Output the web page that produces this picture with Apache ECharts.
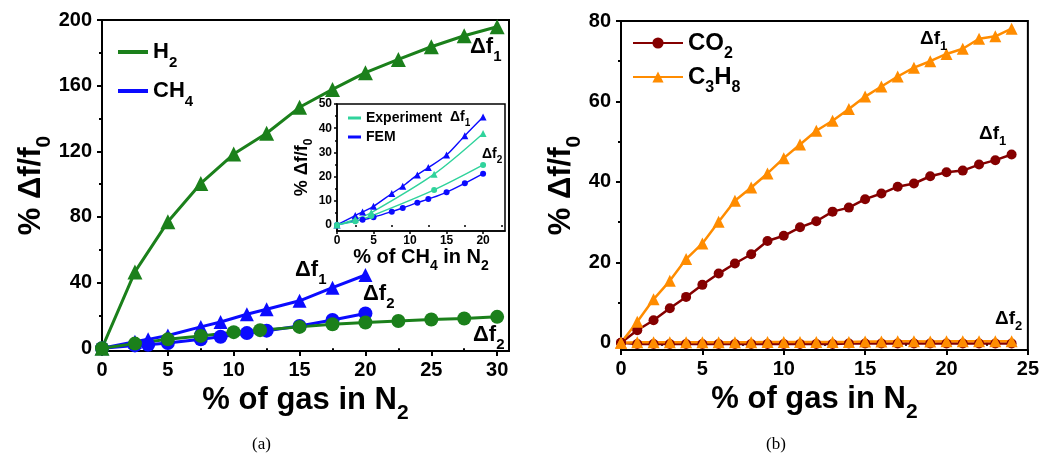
<!DOCTYPE html>
<html>
<head>
<meta charset="utf-8">
<script src="https://cdn.jsdelivr.net/npm/echarts@6/dist/echarts.min.js"></script>
<style>
  html, body { margin: 0; padding: 0; background: #fff; }
  #chart { width: 1042px; height: 455px; }
</style>
</head>
<body>
<div id="chart"></div>
<script>
// (a) H2 and CH4, % of gas in N2
const h2X = [0, 2.5, 5, 7.5, 10, 12.5, 15, 17.5, 20, 22.5, 25, 27.5, 30];
const h2F1 = [0, 46.5, 77, 100.4, 118.3, 131, 146.8, 157.7, 167.9, 176, 183.7, 190.4, 195.9];
const h2F2X = [0, 2.5, 5, 7.5, 10, 12, 15, 17.5, 20, 22.5, 25, 27.5, 30];
const h2F2 = [0, 2.8, 5.4, 7.5, 9.8, 11, 13, 14.6, 15.7, 16.6, 17.5, 18.1, 19.1];
const ch4X = [0, 2.5, 3.5, 5, 7.5, 9, 11, 12.5, 15, 17.5, 20];
const ch4F1 = [0, 3.9, 5.4, 7.7, 13.0, 16.0, 20.7, 23.7, 28.9, 36.9, 44.6];
const ch4F2 = [0, 1.7, 2.1, 3.2, 5.5, 7.0, 9.2, 10.7, 13.5, 17.2, 21.2];

// inset: experiment vs FEM for CH4
const expX = [0, 2.5, 4.7, 13.3, 20];
const expF1 = [0, 2.3, 5.1, 21, 37.8];
const expF2 = [0, 1.5, 3.7, 14.5, 24.8];

// (b) CO2 and C3H8
const bX = [0, 1, 2, 3, 4, 5, 6, 7, 8, 9, 10, 11, 12, 13, 14, 15, 16, 17, 18, 19, 20, 21, 22, 23, 24];
const co2F1 = [0, 3.1, 5.6, 8.6, 11.4, 14.4, 17.2, 19.7, 22.0, 25.3, 26.6, 28.7, 30.2, 32.6, 33.6, 35.7, 37.1, 38.8, 39.6, 41.4, 42.4, 42.8, 44.3, 45.4, 46.8];
const c3h8F1 = [0, 5.2, 10.8, 15.4, 20.8, 24.7, 30.1, 35.3, 38.6, 42.1, 45.9, 49.3, 52.7, 55.2, 58.1, 61.2, 63.7, 66.2, 68.4, 70.0, 71.8, 73.1, 75.6, 76.2, 78.1];
const co2F2 = [0, -0.3, -0.3, -0.3, -0.3, -0.3, -0.3, -0.3, -0.3, -0.3, -0.3, -0.3, -0.3, -0.3, -0.2, -0.2, -0.2, -0.2, -0.2, -0.2, -0.2, -0.2, -0.2, -0.2, -0.2];
const c3h8F2 = [0, 0.1, 0.1, 0.1, 0.1, 0.1, 0.1, 0.1, 0.1, 0.2, 0.2, 0.2, 0.2, 0.2, 0.2, 0.3, 0.3, 0.4, 0.4, 0.3, 0.4, 0.4, 0.4, 0.4, 0.4];

// tick labels
const aXTicks = [0, 5, 10, 15, 20, 25, 30];
const aXMinor = [2.5, 7.5, 12.5, 17.5, 22.5, 27.5];
const aYTicks = [0, 40, 80, 120, 160, 200];
const aYMinor = [20, 60, 100, 140, 180];
const inXTicks = [0, 5, 10, 15, 20];
const inXMinor = [2.5, 7.5, 12.5, 17.5, 22.5];
const inYTicks = [0, 10, 20, 30, 40, 50];
const inYMinor = [5, 15, 25, 35, 45];
const bXTicks = [0, 5, 10, 15, 20, 25];
const bXMinor = [2.5, 7.5, 12.5, 17.5, 22.5];
const bYTicks = [0, 20, 40, 60, 80];
const bYMinor = [10, 30, 50, 70];

const FONT = 'Liberation Sans';
const GREEN = '#1b801b';
const BLUE = '#0b0bff';
const TEAL = '#30d39c';
const DARKRED = '#850000';
const ORANGE = '#ff8c00';

const pairs = (xs, ys) => xs.map((x, i) => [x, ys[i]]);

// subscript style for rich text
const sub = (size, drop) => ({
  fontSize: size, fontWeight: 'bold', fontFamily: FONT, color: '#000',
  verticalAlign: 'bottom', padding: [0, 0, -drop, 0]
});

const legendNames = {
  H2: 'H{s|2}', CH4: 'CH{s|4}', CO2: 'CO{s|2}', C3H8: 'C{s|3}H{s|8}',
  Experiment: 'Experiment', FEM: 'FEM'
};

function majorX(grid, min, max, ticks, o) {
  return {
    gridIndex: grid, type: 'value', min: min, max: max, position: 'bottom',
    axisLine: { onZero: false, lineStyle: { color: '#000', width: o.lw } },
    axisTick: { customValues: ticks, length: o.tick, lineStyle: { color: '#000', width: o.lw } },
    axisLabel: { customValues: ticks, margin: o.margin, color: '#000', fontSize: o.fs, fontWeight: 'bold', fontFamily: FONT },
    splitLine: { show: false },
    name: o.name, nameLocation: 'middle', nameGap: o.gap,
    nameTextStyle: { color: '#000', fontSize: o.nfs, fontWeight: 'bold', fontFamily: FONT, padding: o.npad || 0, rich: { s: sub(o.sfs, o.drop) } }
  };
}
function majorY(grid, min, max, ticks, o) {
  return {
    gridIndex: grid, type: 'value', min: min, max: max, position: 'left',
    axisLine: { onZero: false, lineStyle: { color: '#000', width: o.lw } },
    axisTick: { customValues: ticks, length: o.tick, lineStyle: { color: '#000', width: o.lw } },
    axisLabel: { customValues: ticks, margin: o.margin, color: '#000', fontSize: o.fs, fontWeight: 'bold', fontFamily: FONT },
    splitLine: { show: false },
    name: o.name, nameLocation: 'middle', nameGap: o.gap,
    nameTextStyle: { color: '#000', fontSize: o.nfs, fontWeight: 'bold', fontFamily: FONT, rich: { s: sub(o.sfs, o.drop) } }
  };
}
function minorAxis(grid, min, max, ticks, len, lw, pos) {
  return {
    gridIndex: grid, type: 'value', min: min, max: max, position: pos,
    axisLine: { show: false },
    axisTick: { customValues: ticks, length: len, lineStyle: { color: '#000', width: lw } },
    axisLabel: { show: false },
    splitLine: { show: false }
  };
}

function lineSeries(name, data, color, symbol, size, width, xi, yi, smooth) {
  return {
    name: name, type: 'line', xAxisIndex: xi, yAxisIndex: yi,
    data: data, symbol: symbol, symbolSize: size, smooth: smooth || false,
    itemStyle: { color: color }, lineStyle: { color: color, width: width },
    emphasis: { disabled: true }
  };
}

function delta(x, y, n, size) {
  return {
    type: 'text', left: x, top: y, z: 100,
    style: {
      text: '\u0394f{s|' + n + '}', fill: '#000', fontSize: size, fontWeight: 'bold', fontFamily: FONT,
      rich: { s: sub(Math.round(size * 0.68), Math.round(size * 0.28)) }
    }
  };
}

const chart = echarts.init(document.getElementById('chart'), null, { renderer: 'canvas' });

chart.setOption({
  animation: false,
  backgroundColor: '#fff',
  grid: [
    { left: 102, top: 20, width: 407, height: 331, show: true, borderColor: '#000', borderWidth: 2 },
    { left: 621, top: 21, width: 408, height: 329, show: true, borderColor: '#000', borderWidth: 2 },
    { left: 337, top: 104, width: 168, height: 127, show: true, borderColor: '#000', borderWidth: 1.5, backgroundColor: '#fff' }
  ],
  xAxis: [
    majorX(0, 0, 30.9, aXTicks, { lw: 2, tick: 5, margin: 9, fs: 20, name: '% of gas in N{s|2}', gap: 30, nfs: 31, sfs: 21, drop: 8 }),
    minorAxis(0, 0, 30.9, aXMinor, 3, 2, 'bottom'),
    majorX(1, 0, 25, bXTicks, { lw: 2, tick: 5, margin: 9, fs: 20, name: '% of gas in N{s|2}', gap: 27, nfs: 31, sfs: 21, drop: 8, npad: [0, 20, 0, 0] }),
    minorAxis(1, 0, 25, bXMinor, 3, 2, 'bottom'),
    majorX(2, 0, 23, inXTicks, { lw: 1.5, tick: 3, margin: 4, fs: 12, name: '% of CH{s|4} in N{s|2}', gap: 15, nfs: 20, sfs: 14, drop: 5 }),
    minorAxis(2, 0, 23, inXMinor, 2, 1.5, 'bottom')
  ],
  yAxis: [
    majorY(0, -1.7, 200, aYTicks, { lw: 2, tick: 5, margin: 10, fs: 20, name: '% \u0394f/f{s|0}', gap: 55, nfs: 31, sfs: 21, drop: 8 }),
    minorAxis(0, -1.7, 200, aYMinor, 3, 2, 'left'),
    majorY(1, -1.8, 80, bYTicks, { lw: 2, tick: 5, margin: 10, fs: 20, name: '% \u0394f/f{s|0}', gap: 44, nfs: 31, sfs: 21, drop: 8 }),
    minorAxis(1, -1.8, 80, bYMinor, 3, 2, 'left'),
    majorY(2, -2.5, 50, inYTicks, { lw: 1.5, tick: 3, margin: 5, fs: 12, name: '% \u0394f/f{s|0}', gap: 20, nfs: 18, sfs: 12, drop: 4 }),
    minorAxis(2, -2.5, 50, inYMinor, 2, 1.5, 'left')
  ],
  legend: [
    {
      data: ['H2', 'CH4'], orient: 'vertical', left: 113, top: 36, itemGap: 10,
      icon: 'rect', itemWidth: 30, itemHeight: 4, selectedMode: false,
      formatter: (n) => legendNames[n],
      textStyle: { color: '#000', fontSize: 22, fontWeight: 'bold', fontFamily: FONT, rich: { s: sub(15, 7) } }
    },
    {
      data: ['Experiment', 'FEM'], orient: 'vertical', left: 343, top: 106, itemGap: 5,
      icon: 'rect', itemWidth: 13, itemHeight: 3, selectedMode: false,
      formatter: (n) => legendNames[n],
      textStyle: { color: '#000', fontSize: 14, fontWeight: 'bold', fontFamily: FONT }
    },
    {
      data: ['CO2', 'C3H8'], orient: 'vertical', left: 627, top: 26, itemGap: 3,
      itemWidth: 50, itemHeight: 14, selectedMode: false,
      formatter: (n) => legendNames[n],
      textStyle: { color: '#000', fontSize: 24, fontWeight: 'bold', fontFamily: FONT, rich: { s: sub(16, 7) } }
    }
  ],
  graphic: [
    delta(470, 36, 1, 22),
    delta(295, 259, 1, 22),
    delta(363, 283, 2, 22),
    delta(473, 324, 2, 22),
    delta(450, 110, 1, 14),
    delta(482, 147, 2, 14),
    delta(920, 29, 1, 19),
    delta(979, 124, 1, 19),
    delta(995, 309, 2, 19),
    { type: 'text', left: 252, top: 436, style: { text: '(a)', fill: '#000', fontSize: 17, fontFamily: 'Liberation Serif' } },
    { type: 'text', left: 766, top: 436, style: { text: '(b)', fill: '#000', fontSize: 17, fontFamily: 'Liberation Serif' } }
  ],
  series: [
    lineSeries('CH4', pairs(ch4X, ch4F1), BLUE, 'triangle', 14, 3, 0, 0),
    lineSeries('CH4', pairs(ch4X, ch4F2), BLUE, 'circle', 14, 3, 0, 0),
    lineSeries('H2', pairs(h2X, h2F1), GREEN, 'triangle', 15, 3, 0, 0),
    lineSeries('H2', pairs(h2F2X, h2F2), GREEN, 'circle', 14, 3, 0, 0),

    lineSeries('FEM', pairs(ch4X, ch4F1), BLUE, 'triangle', 7, 1.4, 4, 4, 0.3),
    lineSeries('FEM', pairs(ch4X, ch4F2), BLUE, 'circle', 6, 1.4, 4, 4, 0.3),
    lineSeries('Experiment', pairs(expX, expF1), TEAL, 'triangle', 7, 1.4, 4, 4, 0.3),
    lineSeries('Experiment', pairs(expX, expF2), TEAL, 'circle', 6, 1.4, 4, 4, 0.3),

    lineSeries('CO2', pairs(bX, co2F1), DARKRED, 'circle', 10, 2.5, 2, 2),
    lineSeries('CO2', pairs(bX, co2F2), DARKRED, 'circle', 10, 2.5, 2, 2),
    lineSeries('C3H8', pairs(bX, c3h8F1), ORANGE, 'triangle', 12, 2.5, 2, 2),
    lineSeries('C3H8', pairs(bX, c3h8F2), ORANGE, 'triangle', 12, 2.5, 2, 2)
  ]
});
</script>
</body>
</html>
